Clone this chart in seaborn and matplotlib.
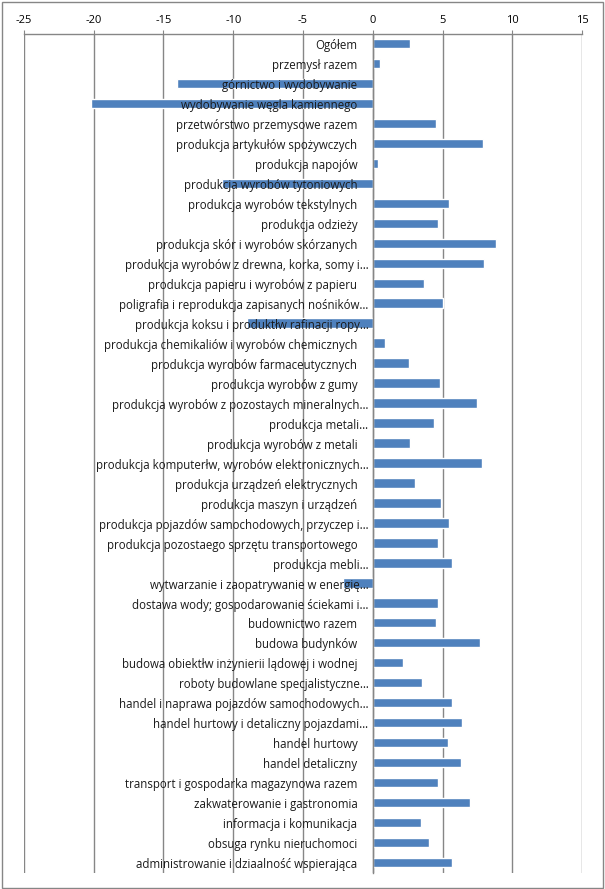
import matplotlib
matplotlib.use("Agg")
import matplotlib.pyplot as plt
import seaborn as sns
import pandas as pd
from matplotlib.patches import Rectangle

categories = [
    "Ogółem", "przemysł razem", "górnictwo i wydobywanie", "wydobywanie węgla kamiennego",
    "przetwórstwo przemysowe razem", "produkcja artykułów spożywczych", "produkcja napojów",
    "produkcja wyrobów tytoniowych", "produkcja wyrobów tekstylnych", "produkcja odzieży",
    "produkcja skór i wyrobów skórzanych", "produkcja wyrobów z drewna, korka, somy i…",
    "produkcja papieru i wyrobów z papieru", "poligrafia i reprodukcja zapisanych nośników…",
    "produkcja koksu i produktłw rafinacji ropy…", "produkcja chemikaliów i wyrobów chemicznych",
    "produkcja wyrobów farmaceutycznych", "produkcja wyrobów z gumy",
    "produkcja wyrobów z pozostaych mineralnych…", "produkcja metali…",
    "produkcja wyrobów z metali", "produkcja komputerłw, wyrobów elektronicznych…",
    "produkcja urządzeń elektrycznych", "produkcja maszyn i urządzeń",
    "produkcja pojazdów samochodowych, przyczep i…", "produkcja pozostaego sprzętu transportowego",
    "produkcja mebli…", "wytwarzanie i zaopatrywanie w energię…",
    "dostawa wody; gospodarowanie ściekami i…", "budownictwo razem", "budowa budynków",
    "budowa obiektłw inżynierii lądowej i wodnej", "roboty budowlane specjalistyczne…",
    "handel i naprawa pojazdów samochodowych…", "handel hurtowy i detaliczny pojazdami…",
    "handel hurtowy", "handel detaliczny", "transport i gospodarka magazynowa razem",
    "zakwaterowanie i gastronomia", "informacja i komunikacja", "obsuga rynku nieruchomoci",
    "administrowanie i dziaalność wspierająca",
]
values = [
    2.7, 0.55, -14.0, -20.2, 4.5, 7.9, 0.4, -10.8, 5.5, 4.65,
    8.8, 8.0, 3.7, 5.0, -9.0, 0.9, 2.6, 4.85, 7.45, 4.4,
    2.7, 7.8, 3.0, 4.9, 5.5, 4.65, 5.65, -2.1, 4.7, 4.5,
    7.7, 2.2, 3.5, 5.7, 6.4, 5.4, 6.3, 4.7, 6.95, 3.45,
    4.0, 5.65,
]
x_ticks = [-25, -20, -15, -10, -5, 0, 5, 10, 15]

df = pd.DataFrame({"kategoria": categories, "wartosc": values})

sns.set_style("white")
plt.rcParams["font.family"] = ["Open Sans", "DejaVu Sans"]

fig = plt.figure(figsize=(6.05, 8.89), dpi=100)
ax = fig.add_axes([24 / 605, 1 - 872.5 / 889, (582 - 24) / 605, (872.5 - 33.5) / 889])

bar_color = "#4F81BD"
grid_color = "#868686"

sns.barplot(data=df, y="kategoria", x="wartosc", orient="h", color=bar_color,
            width=0.47, saturation=1, ax=ax, zorder=2)

ax.set_xlim(x_ticks[0], x_ticks[-1])
n = len(categories)
ax.set_ylim(n - 0.5, -0.5)
ax.set_xticks(x_ticks)
ax.set_xticklabels([str(t) for t in x_ticks], fontsize=8, color="#000000")
ax.xaxis.tick_top()
ax.tick_params(axis="x", which="both", direction="out", length=3, color=grid_color,
               pad=2.5, bottom=False, top=True)
ax.set_xlabel("")
ax.set_ylabel("")

ax.grid(axis="x", color=grid_color, linewidth=1)
ax.set_axisbelow(True)

for s in ["bottom", "right"]:
    ax.spines[s].set_visible(False)
ax.spines["top"].set_color(grid_color)
ax.spines["top"].set_linewidth(1)
ax.spines["left"].set_position(("data", 0))
ax.spines["left"].set_color(grid_color)
ax.spines["left"].set_linewidth(1)
ax.spines["left"].set_zorder(3)

ax.set_yticks(range(n))
ax.set_yticklabels([])
ax.set_yticks([i + 0.5 for i in range(-1, n)], minor=True)
ax.tick_params(axis="y", which="major", length=0)
ax.tick_params(axis="y", which="minor", length=3.5, color=grid_color, direction="out", width=1)

for i, lab in enumerate(categories):
    off = -3 if lab.endswith("…") else -11
    ax.annotate(lab, xy=(0, i), xytext=(off, -0.5), textcoords="offset points",
                ha="right", va="center_baseline", fontsize=8.3, color="#1a1a1a", zorder=5)

fig.patches.append(Rectangle((1.5 / 605, 1.5 / 889), 601 / 605, 886 / 889,
                             transform=fig.transFigure, fill=False,
                             edgecolor=grid_color, linewidth=1))

fig.savefig("out.png", dpi=100)
